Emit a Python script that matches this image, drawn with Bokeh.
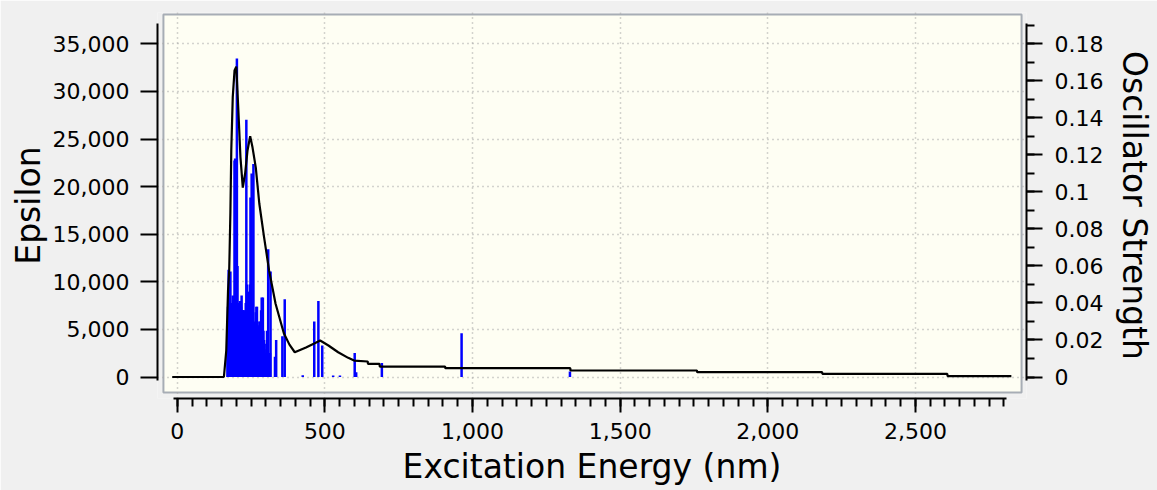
from bokeh.plotting import figure
from bokeh.models import (Range1d, LinearAxis, SingleIntervalTicker, NumeralTickFormatter, Grid)
from bokeh.embed import file_html
from bokeh.resources import INLINE

# ---------------- data ----------------
# calculated spectrum (black curve): wavelength (nm) vs epsilon
spec_nm = [-17, 158, 166, 172, 176, 180, 183, 188, 194, 200, 207, 214, 222, 230, 238,
           247, 255, 266, 278, 294, 311, 333, 361, 380, 398, 436, 469, 484, 512, 545,
           579, 599, 645, 646, 685, 686, 907, 908, 1331, 1332, 1760, 1761, 2184, 2185,
           2608, 2609, 2825]
spec_eps = [0, 0, 2780, 9090, 11200, 17300, 23800, 29400, 32200, 32600, 28000, 23100,
            19900, 21400, 23800, 25300, 24100, 22000, 18200, 14700, 11200, 7700, 4600,
            3400, 2600, 3100, 3600, 3830, 3310, 2600, 2010, 1730, 1630, 1386, 1386, 1100,
            1100, 925, 925, 683, 683, 504, 504, 336, 336, 84, 84]

# excitations (blue sticks): wavelength (nm) vs oscillator strength
bar_nm = [170, 172, 174, 176, 178, 180, 182, 184, 186, 188, 190, 192, 194, 196, 198,
          200, 202, 204, 206, 208, 210, 212, 214, 216, 218, 220, 222, 224, 226, 228,
          230, 232, 234, 236, 238, 240, 242, 244, 246, 248, 250, 252, 254, 256, 258,
          260, 262, 264, 266, 268, 270, 272, 274, 276, 278, 280, 282, 284, 286, 288,
          290, 292, 294, 296, 298, 300, 302, 304, 306, 308, 310, 312, 314, 316,
          331, 335, 356, 364, 425, 464, 478, 491, 528, 551, 601, 606, 693, 963, 1330]
bar_f = [0.030, 0.038, 0.058, 0.034, 0.040, 0.057, 0.036, 0.032, 0.040, 0.044, 0.034,
         0.036, 0.117, 0.118, 0.045, 0.042, 0.172, 0.060, 0.040, 0.032, 0.035, 0.041,
         0.033, 0.038, 0.044, 0.034, 0.036, 0.036, 0.036, 0.032, 0.030, 0.040, 0.139,
         0.050, 0.046, 0.046, 0.040, 0.045, 0.050, 0.097, 0.045, 0.110, 0.040, 0.032,
         0.115, 0.021, 0.024, 0.030, 0.035, 0.038, 0.038, 0.030, 0.027, 0.026, 0.028,
         0.030, 0.030, 0.036, 0.043, 0.035, 0.043, 0.025, 0.020, 0.018, 0.013, 0.013,
         0.015, 0.025, 0.013, 0.069, 0.013, 0.013, 0.013, 0.057,
         0.011, 0.020, 0.022, 0.042, 0.001, 0.030, 0.041, 0.017, 0.0008, 0.0008, 0.013,
         0.0026, 0.0075, 0.0237, 0.003]

x_label = "Excitation Energy (nm)"
y_label = "Epsilon"
y2_label = "Oscillator Strength"

# ---------------- layout (pixel geometry) ----------------
W, H = 1157, 490
FL, FR, FT, FB = 157, 1037, 12, 398      # Bokeh frame (axis lines)
X0, XS = 177.0, 0.2990                    # px of 0 nm, px per nm
Y0, YS = 376.5, 333.2 / 35000.0           # px of eps 0, px per epsilon
OSC_PER_EPS = 0.18 / 35000.0

def xd(px):
    return (px - X0) / XS

def yd(py):
    return (Y0 - py) / YS

x_start, x_end = xd(FL), xd(FR)
y_start, y_end = yd(FB), yd(FT)

BG = "#f0f0f0"
FONT = "DejaVu Sans"

p = figure(width=W, height=H, output_backend="svg", toolbar_location=None,
           x_range=Range1d(x_start, x_end), y_range=Range1d(y_start, y_end),
           min_border_left=FL, min_border_right=W - FR, min_border_top=FT,
           min_border_bottom=H - FB, x_axis_type=None, y_axis_type=None)
p.background_fill_color = BG
p.border_fill_color = BG
p.outline_line_color = None

p.extra_y_ranges = {"osc": Range1d(y_start * OSC_PER_EPS, y_end * OSC_PER_EPS)}

# inner plot box
p.quad(left=[xd(163)], right=[xd(1032)], bottom=[yd(392)], top=[yd(14)],
       fill_color="#fefef3", line_color="#a7adb5", line_width=2, level="image")

def style_axis(ax):
    ax.axis_line_color = "black"
    ax.axis_line_width = 2
    ax.major_tick_line_color = "black"
    ax.major_tick_line_width = 2
    ax.minor_tick_line_color = "black"
    ax.minor_tick_line_width = 2
    ax.major_tick_in = 0
    ax.minor_tick_in = 0
    ax.major_label_text_font = FONT
    ax.major_label_text_font_size = "22px"
    ax.major_label_text_color = "black"
    ax.axis_label_text_font = FONT
    ax.axis_label_text_font_size = "33px"
    ax.axis_label_text_font_style = "normal"
    ax.axis_label_text_color = "black"

# bottom axis
xax = LinearAxis(ticker=SingleIntervalTicker(interval=500, num_minor_ticks=10),
                 formatter=NumeralTickFormatter(format="0,0"), axis_label=x_label)
style_axis(xax)
xax.major_tick_out = 14
xax.minor_tick_out = 8
xax.major_label_standoff = 10
xax.axis_label_standoff = 5
xax.bounds = (xd(173), xd(1017))
p.add_layout(xax, "below")

# left axis
yax = LinearAxis(ticker=SingleIntervalTicker(interval=5000, num_minor_ticks=0),
                 formatter=NumeralTickFormatter(format="0,0"), axis_label=y_label)
style_axis(yax)
yax.major_tick_out = 17
yax.minor_tick_out = 0
yax.major_label_standoff = 11
yax.axis_label_standoff = 2
yax.bounds = (yd(380), yd(23))
p.add_layout(yax, "left")

# right axis
rax = LinearAxis(y_range_name="osc",
                 ticker=SingleIntervalTicker(interval=0.02, num_minor_ticks=2),
                 formatter=NumeralTickFormatter(format="0.[00]"), axis_label=y2_label)
style_axis(rax)
rax.major_tick_out = 16
rax.minor_tick_out = 8
rax.major_label_standoff = 12
rax.axis_label_standoff = 9
rax.bounds = (yd(380) * OSC_PER_EPS, yd(23) * OSC_PER_EPS)
p.add_layout(rax, "right")

# grids
gx = Grid(dimension=0, ticker=SingleIntervalTicker(interval=500))
gy = Grid(dimension=1, ticker=SingleIntervalTicker(interval=5000))
for g in (gx, gy):
    g.grid_line_color = "#a8a8a8"
    g.grid_line_dash = "1 4"
    g.grid_line_width = 1.5
    p.add_layout(g)

# oscillator sticks
p.segment(x0=bar_nm, y0=[0] * len(bar_nm), x1=bar_nm, y1=bar_f,
          y_range_name="osc", line_color="#0000ff", line_width=2.5)

# spectrum
p.line(spec_nm, spec_eps, line_color="black", line_width=2.2)

open("out.html", "w").write(file_html(p, INLINE))
